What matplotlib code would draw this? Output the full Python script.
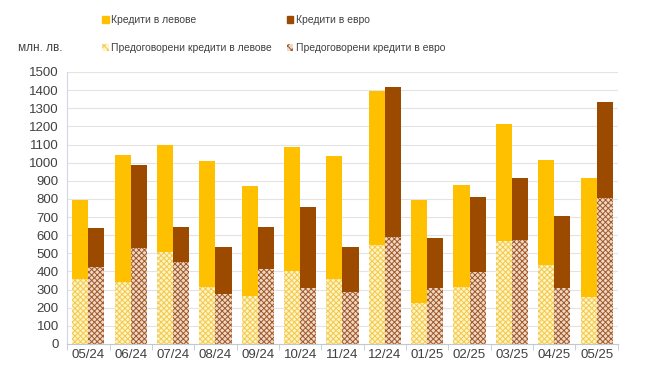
import numpy as np
import matplotlib.pyplot as plt
from matplotlib.patches import Patch

months = ['05/24', '06/24', '07/24', '08/24', '09/24', '10/24', '11/24',
          '12/24', '01/25', '02/25', '03/25', '04/25', '05/25']
leva = [795, 1042, 1098, 1010, 871, 1087, 1037, 1395, 794, 877, 1213, 1015, 916]
euro = [640, 987, 645, 535, 645, 756, 535, 1420, 585, 811, 916, 706, 1335]
reneg_leva = [358, 342, 507, 314, 265, 403, 358, 546, 226, 314, 568, 436, 259]
reneg_euro = [425, 530, 452, 276, 414, 309, 287, 590, 309, 397, 574, 309, 805]

c_leva = '#FFC000'
c_euro = '#9C4A00'

plt.rcParams['hatch.linewidth'] = 0.7
plt.rcParams['font.family'] = ['Liberation Sans', 'DejaVu Sans']

fig = plt.figure(figsize=(6.65, 3.75), dpi=100)
ax = fig.add_axes([0.101, 0.083, 0.828, 0.725])

x = np.arange(len(months))
w = 0.38

ax.bar(x - w/2, leva, w, color=c_leva, zorder=2)
ax.bar(x + w/2, euro, w, color=c_euro, zorder=2)
ax.bar(x - w/2, reneg_leva, w, color='#FFF3C4', edgecolor='#F2C94C',
       hatch='xxxxxx', linewidth=0, zorder=3)
ax.bar(x + w/2, reneg_euro, w, color='#F0D9C4', edgecolor='#A0582A',
       hatch='xxxxxx', linewidth=0, zorder=3)

ax.set_xlim(-0.5, len(months) - 0.5)
ax.set_ylim(0, 1500)
ax.set_yticks(np.arange(0, 1501, 100))
ax.set_xticks(x)
ax.set_xticklabels(months)
ax.set_xticks(np.arange(-0.5, len(months), 1), minor=True)
ax.tick_params(axis='x', which='major', length=0, labelsize=9.5, colors='#404040', pad=4)
ax.tick_params(axis='x', which='minor', length=4, color='#C0C8D0')
ax.tick_params(axis='y', length=0, labelsize=9.5, colors='#404040', pad=6)
ax.grid(axis='y', color='#E3E3E3', linewidth=0.8, zorder=0)
for s in ['top', 'right']:
    ax.spines[s].set_visible(False)
ax.spines['left'].set_color('#D0D8E8')
ax.spines['bottom'].set_color('#C0C8D0')

fig.text(0.027, 0.865, 'млн. лв.', fontsize=8.5, color='#404040')

handles = [Patch(color=c_leva, label='Кредити в левове'),
           Patch(facecolor='#FFF3C4', edgecolor='#F2C94C', hatch='xxxx', linewidth=0,
                 label='Предоговорени кредити в левове'),
           Patch(color=c_euro, label='Кредити в евро'),
           Patch(facecolor='#F0D9C4', edgecolor='#A0582A', hatch='xxxx', linewidth=0,
                 label='Предоговорени кредити в евро')]
fig.legend(handles=handles, ncol=2, loc='upper left', bbox_to_anchor=(0.14, 0.985),
           frameon=False, fontsize=7.5, handlelength=0.6, handleheight=0.6,
           handletextpad=0.2, columnspacing=1.5, labelspacing=1.75,
           labelcolor='#404040')

plt.savefig('out.png', dpi=100)
